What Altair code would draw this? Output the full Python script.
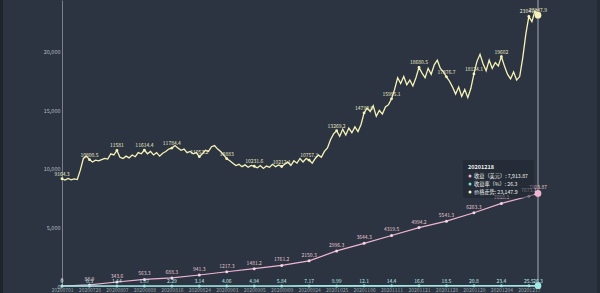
import json
import altair as alt
import pandas as pd

# ---------------- data ----------------
dates = ["20200701", "20200728", "20200807", "20200808", "20200816", "20200824",
         "20200903", "20200905", "20200909", "20200924", "20201025", "20201106",
         "20201111", "20201121", "20201128", "20201129", "20201204", "20201217",
         "20201218"]
sparse_t = [0, 9, 18, 27, 36, 45, 54, 63, 72, 81, 90, 99, 108, 117, 126, 135, 144, 153, 156]

profit = [0, 88.9, 343.6, 563.3, 688.3, 941.3, 1217.3, 1481.2, 1761.2, 2150.3, 2996.3,
          3644.3, 4319.5, 4994.2, 5541.3, 6263.3, 7059.3, 7673.1, 7913.87]
profit_labels = ["0", "88.9", "343.6", "563.3", "688.3", "941.3", "1217.3", "1481.2", "1761.2",
                 "2150.3", "2996.3", "3644.3", "4319.5", "4994.2", "5541.3", "6263.3",
                 "7059.3", "7673.1", "7913.87"]

rate = [0, 0.3, 1.14, 1.87, 2.29, 3.14, 4.06, 4.94, 5.84, 7.17, 9.99, 12.1, 14.4, 16.6,
        18.5, 20.8, 23.4, 25.5, 26.3]
rate_labels = ["0", "0.3", "1.14", "1.87", "2.29", "3.14", "4.06", "4.94", "5.84", "7.17",
               "9.99", "12.1", "14.4", "16.6", "18.5", "20.8", "23.4", "25.5", "26.3"]

price = [
    9164.3, 9050, 9200, 9080, 9150, 9100, 9900, 10900, 11100, 10800.5,
    10600, 10750, 10700, 10800, 10900, 10850, 11300, 11200, 11581,
    11000, 10900, 11100, 10950, 11200, 11050, 11400, 11300, 11614.4,
    11300, 11500, 11200, 11400, 11100, 11350, 11500, 11700, 11784.4,
    12000, 11800, 11600, 11700, 11400, 11500, 11300, 11400, 11053.2,
    11300, 11600, 11500, 11900, 12000, 11700, 11500, 11200, 10883,
    10700, 10500, 10300, 10400, 10200, 10350, 10150, 10300, 10231.6,
    10100, 10300, 10050, 10250, 10150, 10400, 10200, 10350, 10212.1,
    10400, 10600, 10300, 10700, 10500, 10900, 10600, 10900, 10757.1,
    10500, 10900, 11200, 11000, 11500, 11800, 12500, 13000, 13269.2,
    12800, 13400, 12900, 13500, 13100, 13600, 13200, 13800, 14790.8,
    15200, 14900, 15400, 14500, 15000, 14700, 15300, 15500, 15995.1,
    16800, 17800, 17300, 17900, 17200, 17600, 17100, 17800, 18680.5,
    18200, 17800, 18600, 18100, 18900, 19300, 18600, 18300, 17876.7,
    17500, 17000, 16400, 17000, 16200, 16800, 16100, 16900, 18124.1,
    19200, 19800, 19000, 18400, 19300, 18600, 19100, 18800, 19602,
    18800, 18100, 17700, 18300, 17600, 17900, 19500, 21500, 23041.2,
    22600, 23500, 23147.9,
]
price_labels = ["9164.3", "10800.5", "11581", "11614.4", "11784.4", "11053.2", "10883",
                "10231.6", "10212.1", "10757.1", "13269.2", "14790.8", "15995.1",
                "18680.5", "17876.7", "18124.1", "19602", "23041.2", "23147.9"]

y_ticks = [0, 5000, 10000, 15000, 20000]

# ---------------- styling ----------------
BG = "#2b3440"
C_PRICE = "#f7f3b8"
C_PROFIT = "#f0b4d2"
C_RATE = "#9fe8e4"
FONT = "Noto Sans CJK SC"

price_df = pd.DataFrame({"t": list(range(len(price))), "v": price})
sp = pd.DataFrame({
    "t": sparse_t,
    "profit": profit, "plab": profit_labels,
    "rate": rate, "rlab": rate_labels,
    "price": [price[t] for t in sparse_t], "prlab": price_labels,
})
last = sp.tail(1)

xscale = alt.Scale(domain=[0, sparse_t[-1]], nice=False, zero=False)
yscale = alt.Scale(domain=[0, 24444], nice=False)

label_expr = json.dumps(dates[:-1]) + "[round(datum.value/9)]"

x_axis = alt.Axis(values=sparse_t[:-1], labelExpr=label_expr, title=None, grid=False,
                  ticks=False, labelPadding=1, labelFontSize=5, labelColor="#9aa3ad",
                  labelFont=FONT, domainColor="#6e7a86", labelOverlap=False,
                  labelFlush=False)
y_axis = alt.Axis(values=y_ticks, format=",d", title=None, grid=False, ticks=False,
                  labelPadding=2, labelFontSize=5.5, labelColor="#b8bec6", labelFont=FONT,
                  domainColor="#8c96a0", domainWidth=0.8)


def X(f="t"):
    return alt.X(f"{f}:Q", scale=xscale, axis=x_axis)


def Y(f):
    return alt.Y(f"{f}:Q", scale=yscale, axis=y_axis)


price_line = alt.Chart(price_df).mark_line(color=C_PRICE, strokeWidth=1.3).encode(
    x=X(), y=Y("v"))
price_pts = alt.Chart(sp).mark_point(filled=True, color=C_PRICE, size=8, opacity=1).encode(
    x=X(), y=Y("price"))
price_txt = alt.Chart(sp).mark_text(color="#ece9c9", fontSize=5, dy=-5, font=FONT).encode(
    x=X(), y=Y("price"), text="prlab:N")

profit_line = alt.Chart(sp).mark_line(color=C_PROFIT, strokeWidth=1.2).encode(
    x=X(), y=Y("profit"))
profit_pts = alt.Chart(sp).mark_point(filled=True, color="#f6d6e6", size=9, opacity=1).encode(
    x=X(), y=Y("profit"))
profit_txt = alt.Chart(sp).mark_text(color="#e9c4d6", fontSize=5, dy=-6, font=FONT).encode(
    x=X(), y=Y("profit"), text="plab:N")

rate_line = alt.Chart(sp).mark_line(color=C_RATE, strokeWidth=1.6).encode(
    x=X(), y=Y("rate"))
rate_pts = alt.Chart(sp).mark_point(filled=True, color=C_RATE, size=9, opacity=1).encode(
    x=X(), y=Y("rate"))
rate_txt = alt.Chart(sp).mark_text(color="#bfeeee", fontSize=5, dy=-5, font=FONT).encode(
    x=X(), y=Y("rate"), text="rlab:N")

pointer = alt.Chart(last).mark_rule(color="#c4cad2", strokeWidth=0.8).encode(x=X())

hl_price = alt.Chart(last).mark_point(filled=True, color=C_PRICE, size=45, opacity=1).encode(
    x=X(), y=Y("price"))
hl_profit = alt.Chart(last).mark_point(filled=True, color=C_PROFIT, size=45, opacity=1).encode(
    x=X(), y=Y("profit"))
hl_rate = alt.Chart(last).mark_point(filled=True, color=C_RATE, size=45, opacity=1).encode(
    x=X(), y=Y("rate"))

# ---------------- tooltip overlay ----------------
one = pd.DataFrame({"k": [0]})
tip_box = alt.Chart(one).mark_rect(color="#1f262f", opacity=0.55, cornerRadius=2).encode(
    x=alt.value(401), x2=alt.value(472), y=alt.value(160), y2=alt.value(198))
tip_title = alt.Chart(one).mark_text(text=dates[-1], color="#f2f2f2", fontSize=5.5,
                                      fontWeight="bold", align="left", font=FONT).encode(
    x=alt.value(406), y=alt.value(167))
tip_rows = [
    ("收益（美元）: " + f"{profit[-1]:,.2f}", "#f0b4d2"),
    ("收益率（%）: " + f"{rate[-1]:g}", "#7fe0c8"),
    ("价格走势: " + f"{price[-1]:,.1f}", "#fbf6c4"),
]
tip_layers = [tip_box, tip_title]
for i, (txt, col) in enumerate(tip_rows):
    yy = 176 + 8 * i
    tip_layers.append(alt.Chart(one).mark_circle(color=col, size=9, opacity=1).encode(
        x=alt.value(408), y=alt.value(yy)))
    tip_layers.append(alt.Chart(one).mark_text(text=txt, color="#f2f2f2", fontSize=5.2,
                                               align="left", font=FONT).encode(
        x=alt.value(412), y=alt.value(yy)))

edges = [
    alt.Chart(one).mark_rect(color="#1d242d").encode(
        x=alt.value(-62), x2=alt.value(-59), y=alt.value(0), y2=alt.value(293)),
    alt.Chart(one).mark_rect(color="#222a34").encode(
        x=alt.value(535), x2=alt.value(538), y=alt.value(0), y2=alt.value(293)),
]

chart = alt.layer(
    price_line, price_pts, price_txt,
    pointer,
    profit_line, profit_pts, profit_txt,
    rate_line, rate_pts, rate_txt,
    hl_price, hl_profit, hl_rate,
    *tip_layers,
    *edges,
).properties(
    width=476, height=286,
    autosize=alt.AutoSizeParams(type="none"),
    padding={"left": 62, "top": 0, "right": 62, "bottom": 7},
    background=BG,
).configure_view(stroke=None)

chart.save("out.html", embed_options={"renderer": "svg", "actions": False})
